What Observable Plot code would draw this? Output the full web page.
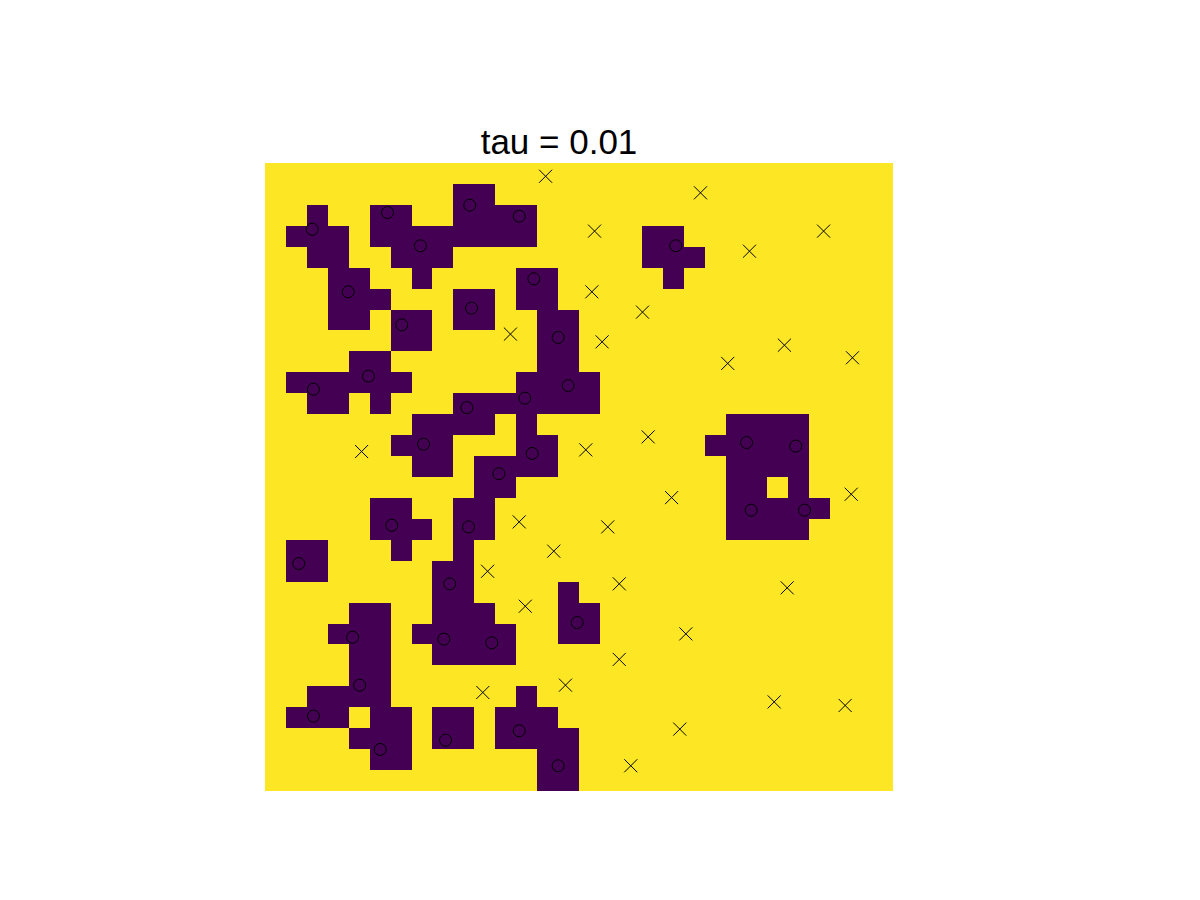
<!DOCTYPE html>
<html><head><meta charset="utf-8">
<script src="https://cdn.jsdelivr.net/npm/d3@7"></script>
<script src="https://cdn.jsdelivr.net/npm/@observablehq/plot@0.6"></script>
<style>
body{margin:0;background:#fff;}
#title{box-sizing:border-box;width:1200px;height:163px;padding-top:124px;padding-right:82px;text-align:center;font-family:"Liberation Sans",Arial,sans-serif;font-size:35px;line-height:35px;color:#000;white-space:nowrap;}
svg{display:block}
</style></head><body>
<div id="title">tau = 0.01</div>
<div id="chart"></div>
<script>
const nRows = 30, nCols = 30;
// purple (value 0) columns in each row, top to bottom; all other cells are value 1
const purpleCols = [
  [],
  [9,10],
  [2,5,6,9,10,11,12],
  [1,2,3,5,6,7,8,9,10,11,12,18,19],
  [2,3,6,7,8,18,19,20],
  [3,4,7,12,13,19],
  [3,4,5,9,10,12,13],
  [3,4,6,7,9,10,13,14],
  [6,7,13,14],
  [4,5,13,14],
  [1,2,3,4,5,6,12,13,14,15],
  [2,3,5,9,10,11,12,13,14,15],
  [7,8,9,10,12,22,23,24,25],
  [6,7,8,12,13,21,22,23,24,25],
  [7,8,10,11,12,13,22,23,24,25],
  [10,11,22,23,25],
  [5,6,9,10,22,23,24,25,26],
  [5,6,7,9,10,22,23,24,25],
  [1,2,6,9],
  [1,2,8,9],
  [8,9,14],
  [4,5,8,9,10,14,15],
  [3,4,5,7,8,9,10,11,14,15],
  [4,5,8,9,10,11],
  [4,5],
  [2,3,4,5,12],
  [1,2,3,5,6,8,9,11,12,13],
  [4,5,6,8,9,11,12,13,14],
  [5,6,13,14],
  [13,14]
];
const circleX = [9.76,12.12,5.83,2.23,7.40,12.82,3.95,9.84,6.51,13.98,4.92,2.29,14.46,12.39,9.62,7.55,12.74,11.15,19.60,22.98,25.33,6.03,9.70,1.59,8.80,14.89,4.16,8.52,10.81,4.50,2.29,5.48,8.60,12.12,13.98,23.20,25.75];
const circleY = [1.99,2.52,2.34,3.14,3.93,5.51,6.13,6.91,7.71,8.31,10.16,10.78,10.61,11.21,11.66,13.41,13.85,14.82,3.93,13.33,13.50,17.28,17.36,19.11,20.08,21.93,22.63,22.72,22.90,24.92,26.40,27.99,27.55,27.10,28.77,16.56,16.56];
const crossX = [13.38,11.70,4.59,20.78,15.72,26.66,23.12,15.59,18.01,16.08,24.79,22.08,28.04,18.28,15.30,12.12,13.77,10.61,12.41,10.38,14.33,19.40,27.98,16.35,16.90,24.92,20.08,16.90,24.30,27.69,19.79,17.45];
const crossY = [0.61,8.15,13.76,1.40,3.23,3.23,4.19,6.13,7.10,8.52,8.68,9.55,9.28,13.06,13.68,17.12,18.52,19.48,21.15,25.27,24.92,15.96,15.80,17.36,20.08,20.27,22.47,23.69,25.72,25.89,27.02,28.77];

const cells = [];
for (let r = 0; r < nRows; r++)
  for (let c = 0; c < nCols; c++)
    cells.push({c, r, v: purpleCols[r].includes(c) ? 0 : 1});
const circles = circleX.map((x, i) => ({x, y: circleY[i]}));
const crosses = crossX.map((x, i) => ({x, y: crossY[i]}));

const chart = Plot.plot({
  width: 1200, height: 737,
  marginLeft: 265, marginRight: 307, marginTop: 0, marginBottom: 109,
  x: {domain: [0, nCols], axis: null},
  y: {domain: [0, nRows], reverse: true, axis: null},
  color: {type: "linear", scheme: "viridis", domain: [0, 1]},
  marks: [
    Plot.rect(cells, {x1: "c", x2: d => d.c + 1, y1: "r", y2: d => d.r + 1, fill: "v", shapeRendering: "crispEdges"}),
    Plot.dot(circles, {x: "x", y: "y", r: 6, symbol: "circle", stroke: "black", fill: "none", strokeWidth: 1}),
    Plot.dot(crosses, {x: "x", y: "y", r: 6, symbol: "times", stroke: "black", strokeWidth: 1})
  ]
});
document.getElementById("chart").appendChild(chart);
</script>
</body></html>
